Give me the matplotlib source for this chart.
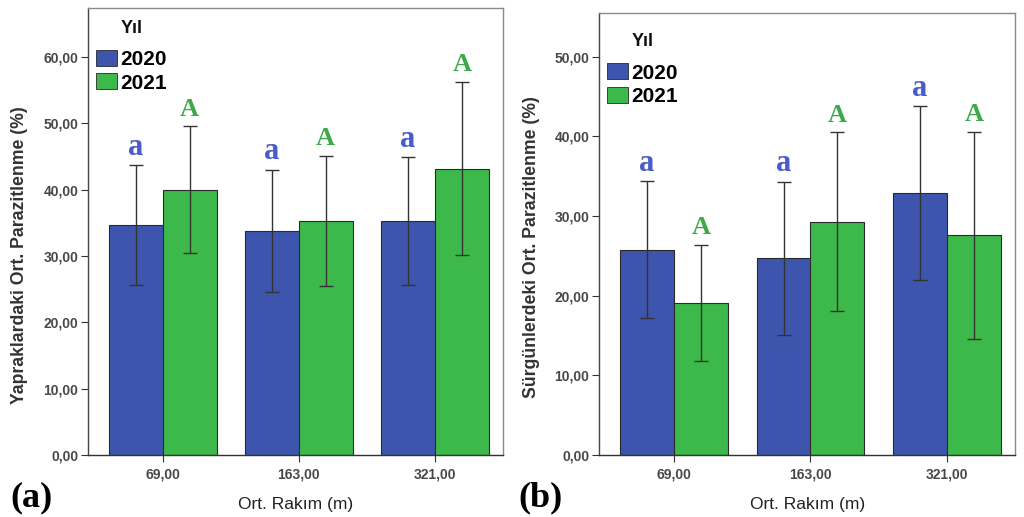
import matplotlib
matplotlib.use("Agg")
import matplotlib.pyplot as plt
import numpy as np

# Elevation groups and years
categories = ["69,00", "163,00", "321,00"]
years = ["2020", "2021"]

# (a) leaves: mean parasitism and error half-widths
leaf_2020 = [34.7, 33.8, 35.3]
leaf_2021 = [40.0, 35.3, 43.2]
leaf_err_2020 = [9.0, 9.2, 9.6]
leaf_err_2021 = [9.6, 9.8, 13.1]
leaf_letters_2020 = ["a", "a", "a"]
leaf_letters_2021 = ["A", "A", "A"]

# (b) shoots: mean parasitism and error half-widths
shoot_2020 = [25.8, 24.7, 32.9]
shoot_2021 = [19.1, 29.3, 27.6]
shoot_err_2020 = [8.6, 9.6, 10.9]
shoot_err_2021 = [7.3, 11.2, 13.0]
shoot_letters_2020 = ["a", "a", "a"]
shoot_letters_2021 = ["A", "A", "A"]

leaf_ticks = [0, 10, 20, 30, 40, 50, 60]
shoot_ticks = [0, 10, 20, 30, 40, 50]

BLUE = "#3D55AC"
GREEN = "#3DB84A"
LETTER_BLUE = "#4A5CC8"
LETTER_GREEN = "#3DAA4A"
SANS = "Liberation Sans"
SERIF = "Liberation Serif"

fig = plt.figure(figsize=(10.24, 5.17), dpi=100)
ax_a = fig.add_axes([0.0859, 0.1199, 0.4053, 0.8646])
ax_b = fig.add_axes([0.585, 0.1199, 0.4063, 0.8549])


def fmt(v):
    return f"{v:.2f}".replace(".", ",")


def draw_panel(ax, m20, m21, e20, e21, l20, l21, ticks, ymax, ylabel,
               ylab_pos, xlab_y, leg_anchor, title_pos):
    x = np.arange(len(categories))
    w = 0.395
    for xs, means, errs, col, letters, lcol, lsize in [
        (x - w / 2, m20, e20, BLUE, l20, LETTER_BLUE, 22),
        (x + w / 2, m21, e21, GREEN, l21, LETTER_GREEN, 19),
    ]:
        ax.bar(xs, means, width=w, color=col, edgecolor="#2a2a2a",
               linewidth=0.8, zorder=2)
        ax.errorbar(xs, means, yerr=errs, fmt="none", ecolor="#333333",
                    elinewidth=1.0, capsize=5, capthick=1.0, zorder=3)
        for xi, mi, ei, let in zip(xs, means, errs, letters):
            ax.annotate(let, (xi, mi + ei), xytext=(0, 7.5),
                        textcoords="offset points", ha="center",
                        va="baseline", family=SERIF, fontweight="bold",
                        fontsize=lsize, color=lcol, zorder=4)
    ax.set_xlim(-0.55, 2.5)
    ax.set_ylim(0, ymax)
    ax.set_xticks(x)
    ax.set_xticklabels(categories)
    ax.set_yticks(ticks)
    ax.set_yticklabels([fmt(t) for t in ticks])
    ax.tick_params(axis="both", labelsize=10, length=5, width=0.8,
                   colors="#333333", labelcolor="#484848")
    ax.tick_params(axis="x", pad=4)
    ax.tick_params(axis="y", pad=2)
    for lab in ax.get_yticklabels() + ax.get_xticklabels():
        lab.set_fontfamily(SANS)
        lab.set_fontweight("bold")
    for s in ax.spines.values():
        s.set_color("#8a8a8a")
        s.set_linewidth(1.0)
    ax.spines["bottom"].set_color("#333333")
    ax.spines["left"].set_color("#444444")
    ax.set_ylabel(ylabel, fontsize=12.7, family=SANS, fontweight="bold",
                  color="#333333")
    ax.yaxis.set_label_coords(*ylab_pos)
    ax.set_xlabel("Ort. Rakım (m)", fontsize=12.5, family=SANS,
                  color="#222222")
    ax.xaxis.set_label_coords(0.5, xlab_y)
    h20 = plt.Rectangle((0, 0), 1, 1, facecolor=BLUE, edgecolor="#2a2a2a", lw=0.6)
    h21 = plt.Rectangle((0, 0), 1, 1, facecolor=GREEN, edgecolor="#2a2a2a", lw=0.6)
    ax.legend([h20, h21], years, loc="upper left", frameon=False,
              prop={"family": SANS, "weight": "bold", "size": 15},
              handlelength=1.0, handleheight=0.8, handletextpad=0.15,
              borderpad=0, borderaxespad=0, labelspacing=0.2,
              bbox_to_anchor=leg_anchor)
    ax.text(title_pos[0], title_pos[1], "Yıl", transform=ax.transAxes,
            ha="center", va="center", family=SANS, fontweight="bold",
            fontsize=13, color="#111111")


draw_panel(ax_a, leaf_2020, leaf_2021, leaf_err_2020, leaf_err_2021,
           leaf_letters_2020, leaf_letters_2021, leaf_ticks, 67.4,
           "Yapraklardaki Ort. Parazitlenme (%)",
           (-0.145, 0.4475), -0.093, (0.019, 0.906), (0.106, 0.955))
draw_panel(ax_b, shoot_2020, shoot_2021, shoot_err_2020, shoot_err_2021,
           shoot_letters_2020, shoot_letters_2021, shoot_ticks, 55.5,
           "Sürgünlerdeki Ort. Parazitlenme (%)",
           (-0.142, 0.4695), -0.094, (0.019, 0.886), (0.106, 0.935))

fig.text(0.010, 0.037, "(a)", family=SERIF, fontweight="bold",
         fontsize=26, ha="left", va="center")
fig.text(0.506, 0.037, "(b)", family=SERIF, fontweight="bold",
         fontsize=26, ha="left", va="center")

fig.savefig("out.png", dpi=100)
